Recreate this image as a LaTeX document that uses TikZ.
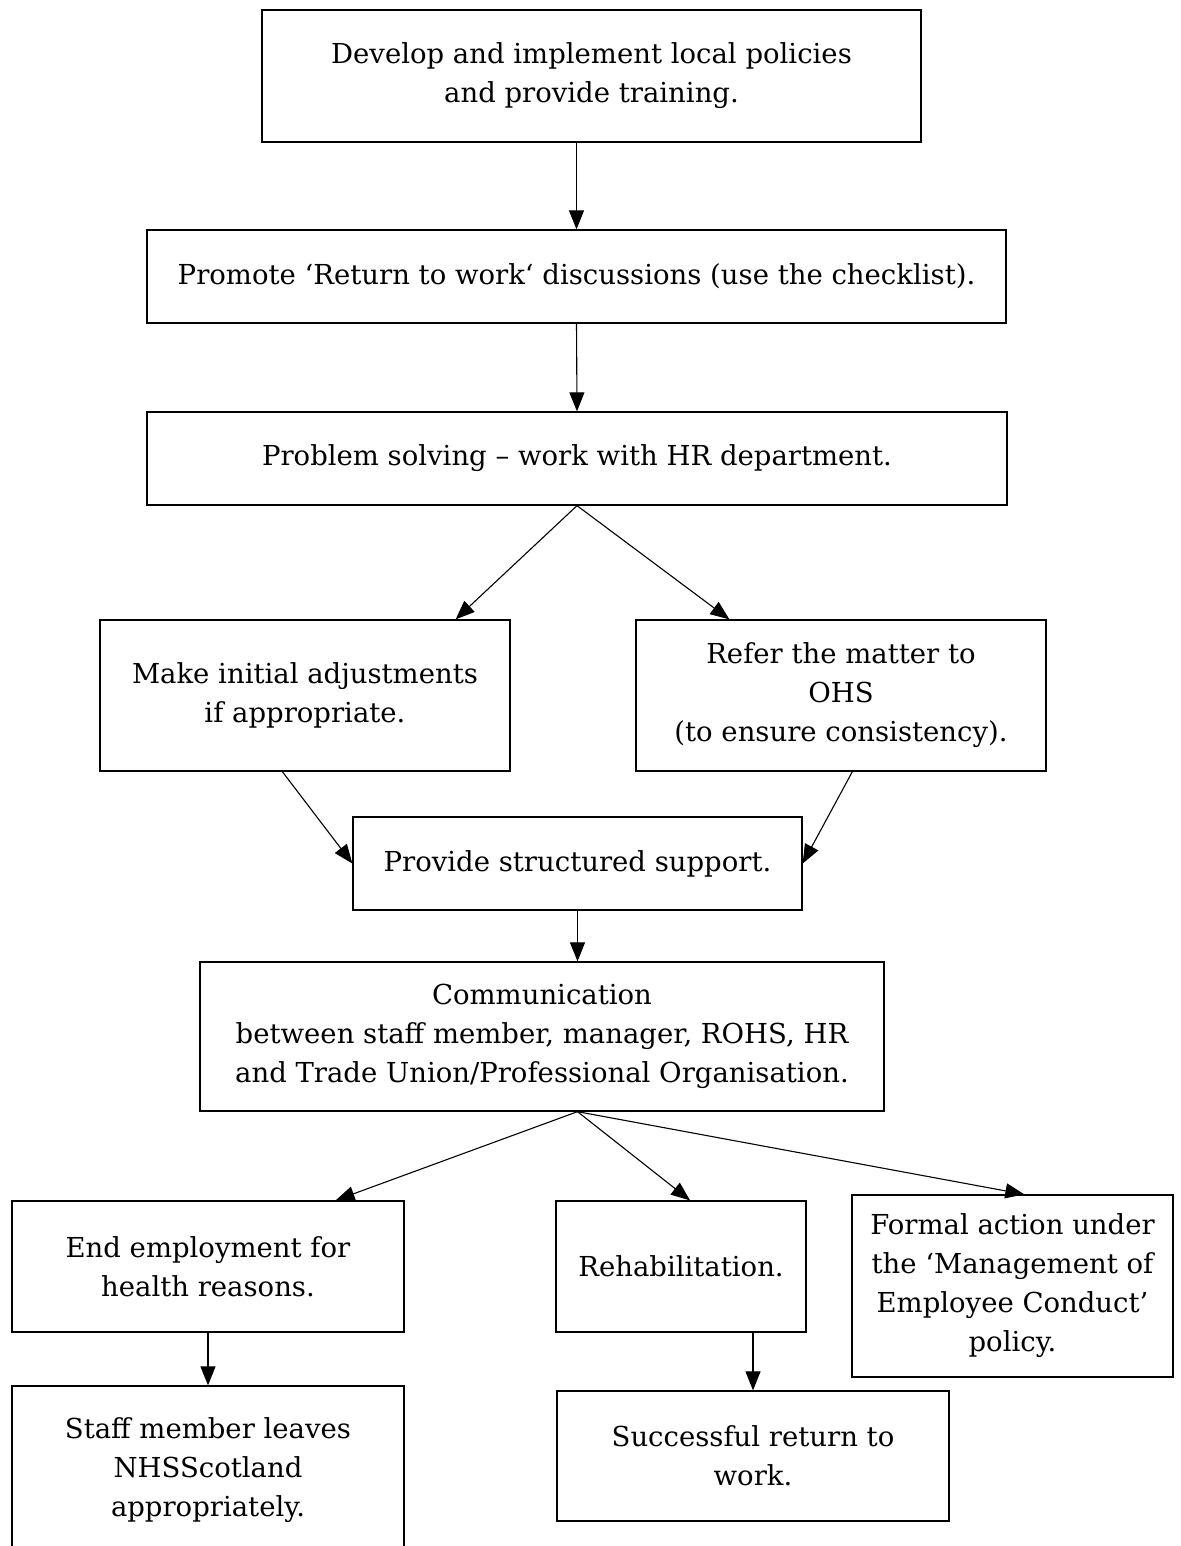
\documentclass[tikz,border=0pt]{standalone}
\usepackage{fontspec}
\setmainfont{DejaVu Serif}
\usetikzlibrary{arrows.meta,calc}
\begin{document}
\begin{tikzpicture}[x=1pt,y=-1pt,
  box/.style={draw=black,line width=1.3pt,rectangle,align=center,inner sep=0pt,
    font=\fontsize{27.5}{39}\selectfont},
  arr/.style={line width=1.1pt,-{Triangle[length=19pt,width=15pt]}}]
\useasboundingbox (0,0) rectangle (1180,1546);
\clip (0,0) rectangle (1180,1546);
\fill[white] (0,0) rectangle (1180,1546);
% process boxes
\node[box,minimum width=659pt,minimum height=132pt] (b1) at (591.5,76)
  {Develop and implement local policies\\and provide training.};
\node[box,minimum width=859pt,minimum height=93pt] (b2) at (576.5,276.5)
  {Promote ‘Return to work‘ discussions (use the checklist).};
\node[box,minimum width=860pt,minimum height=93pt] (b3) at (577,458.5)
  {Problem solving – work with HR department.};
\node[box,minimum width=410pt,minimum height=151pt] (b4) at (305,695.5)
  {Make initial adjustments\\if appropriate.};
\node[box,minimum width=410pt,minimum height=151pt] (b5) at (841,695.5)
  {Refer the matter to\\OHS\\(to ensure consistency).};
\node[box,minimum width=449pt,minimum height=93pt] (b6) at (577.5,863.5)
  {Provide structured support.};
\node[box,minimum width=684pt,minimum height=149pt] (b7) at (542,1036.5)
  {Communication\\between staff member, manager, ROHS, HR\\and Trade Union/Professional Organisation.};
\node[box,minimum width=392pt,minimum height=131pt] (b8) at (208,1266.5)
  {End employment for\\health reasons.};
\node[box,minimum width=250pt,minimum height=131pt] (b9) at (681,1266.5)
  {Rehabilitation.};
\node[box,minimum width=321pt,minimum height=182pt] (b10) at (1012.5,1286)
  {Formal action under\\the ‘Management of\\Employee Conduct’\\policy.};
\node[box,minimum width=392pt,minimum height=168pt] (b11) at (208,1470)
  {Staff member leaves\\NHSScotland\\appropriately.};
\node[box,minimum width=392pt,minimum height=130pt] (b12) at (753,1456)
  {Successful return to\\work.};
% connectors
\draw[arr] (b2.north |- b1.south) -- (b2.north);
\draw[arr] (b2.south) -- (b3.north);
\draw[arr] (b3.south) -- ([xshift=-55pt]b4.north east);
\draw[arr] (b3.south) -- ([xshift=94pt]b5.north west);
\draw[arr] ([xshift=183pt]b4.south west) -- (b6.west);
\draw[arr] ([xshift=217pt]b5.south west) -- (b6.east);
\draw[arr] (b6.south) -- (b6.south |- b7.north);
\coordinate (fan) at (b6.south |- b7.south);
\draw[arr] (fan) -- ([xshift=-69pt]b8.north east);
\draw[arr] (fan) -- ([xshift=9pt]b9.north);
\draw[arr] (fan) -- ([xshift=173pt]b10.north west);
\draw[arr] (b8.south) -- (b11.north);
\draw[arr] (b12.north |- b9.south) -- (b12.north);
\end{tikzpicture}
\end{document}
